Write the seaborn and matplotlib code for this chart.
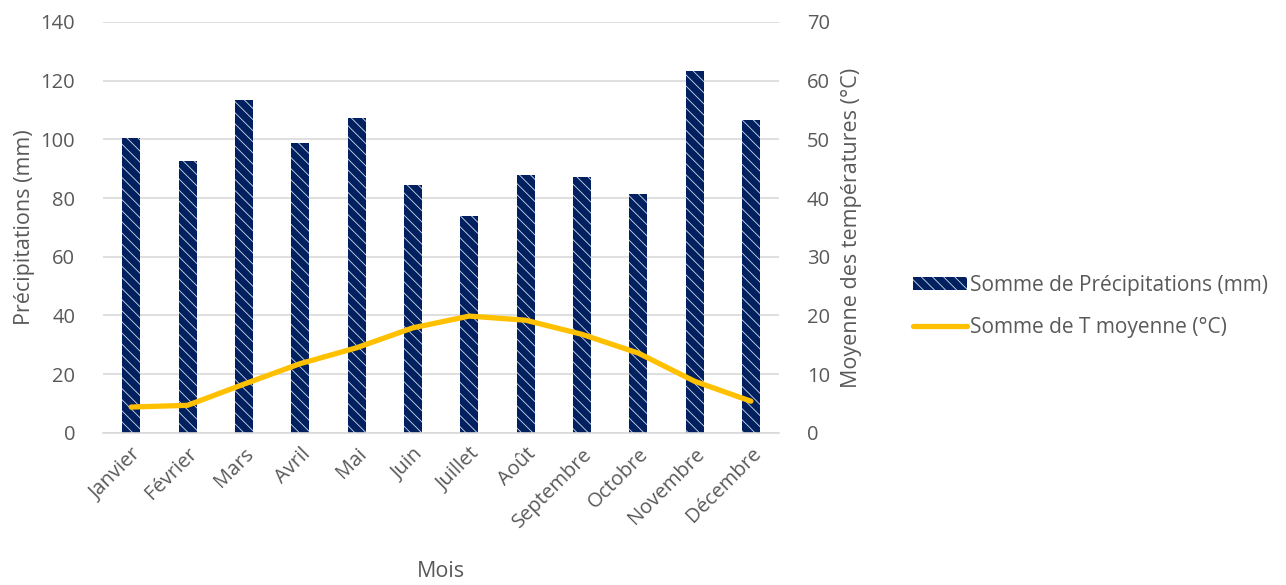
import matplotlib
matplotlib.use("Agg")
import matplotlib.pyplot as plt
import matplotlib.patches as mpatches
import matplotlib.lines as mlines
import seaborn as sns
import pandas as pd
import numpy as np

mois = ["Janvier", "Février", "Mars", "Avril", "Mai", "Juin", "Juillet",
        "Août", "Septembre", "Octobre", "Novembre", "Décembre"]
precipitations = [100.4, 92.7, 113.4, 98.8, 107.4, 84.3, 74.0, 87.8, 87.2, 81.5, 123.2, 106.7]
temperature = [4.4, 4.7, 8.3, 11.8, 14.5, 17.9, 19.9, 19.2, 16.8, 13.6, 8.8, 5.4]

sns.set_theme(style="white")
plt.rcParams["font.family"] = ["Open Sans", "DejaVu Sans"]
plt.rcParams["hatch.linewidth"] = 0.6

navy = "#002060"
gold = "#FFC000"
grey_txt = "#595959"
hatch_col = "#d4dbeb"

df = pd.DataFrame({"Mois": mois, "Precip": precipitations,
                   "T": temperature, "pos": np.arange(len(mois))})

fig = plt.figure(figsize=(12.86, 5.85), dpi=100)
ax = fig.add_axes([0.0801, 0.26, 0.5257, 0.7024])

sns.barplot(data=df, x="Mois", y="Precip", color=navy, width=0.32,
            saturation=1, ax=ax, zorder=2)
for p in ax.patches:
    p.set_hatch("\\\\\\")
    p.set_edgecolor(hatch_col)
    p.set_linewidth(0)

ax.set_ylim(0, 140)
ax.set_yticks(range(0, 141, 20))
ax.set_xlim(-0.5, 11.5)
ax.grid(axis="y", color="#d9d9d9", linewidth=1.2, zorder=0)
ax.set_axisbelow(True)
for s in ["top", "right", "left"]:
    ax.spines[s].set_visible(False)
ax.spines["bottom"].set_color("#d9d9d9")
ax.spines["bottom"].set_linewidth(1.2)
ax.tick_params(axis="both", length=0, colors=grey_txt, labelsize=14.5)
ax.tick_params(axis="y", pad=20)
ax.tick_params(axis="x", pad=8)
plt.setp(ax.get_xticklabels(), rotation=45, ha="right", rotation_mode="anchor")
ax.set_xlabel("Mois", fontsize=15.5, color=grey_txt, labelpad=21)
ax.set_ylabel("Précipitations (mm)", fontsize=15.5, color=grey_txt, labelpad=4)

ax2 = ax.twinx()
sns.lineplot(data=df, x="pos", y="T", color=gold, linewidth=3.8, ax=ax2,
             solid_capstyle="round", zorder=3)
ax2.set_ylim(0, 70)
ax2.set_yticks(range(0, 71, 10))
ax2.set_xlim(-0.5, 11.5)
for s in ["top", "right", "left", "bottom"]:
    ax2.spines[s].set_visible(False)
ax2.tick_params(axis="both", length=0, colors=grey_txt, labelsize=14.5)
ax2.tick_params(axis="y", pad=20)
ax2.set_ylabel("Moyenne des températures (°C)", fontsize=15.5, color=grey_txt, labelpad=8)
ax2.set_xlabel("")

h_bar = mpatches.Patch(facecolor=navy, edgecolor=hatch_col, linewidth=0, hatch="\\\\\\",
                       label="Somme de Précipitations (mm)")
h_line = mlines.Line2D([], [], color=gold, linewidth=3.8, solid_capstyle="round",
                       label="Somme de T moyenne (°C)")
leg = fig.legend(handles=[h_bar, h_line], loc="center left",
                 bbox_to_anchor=(0.695, 0.476), frameon=False, fontsize=15,
                 handlelength=2.6, handleheight=0.6, handletextpad=0.15,
                 labelspacing=1.05, labelcolor=grey_txt)

fig.savefig("out.png", dpi=100)
